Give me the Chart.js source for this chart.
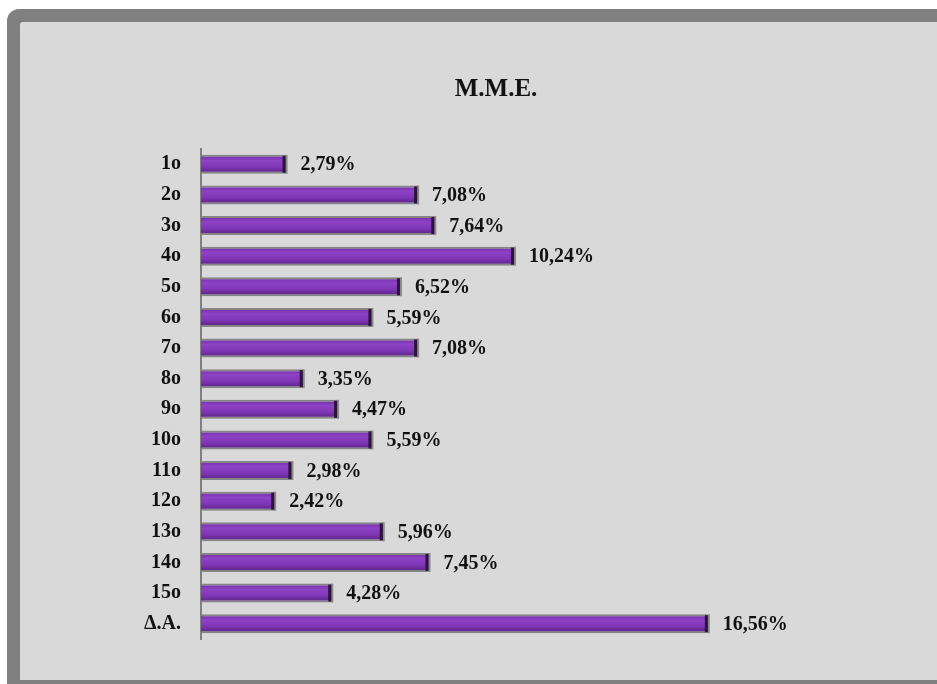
<!DOCTYPE html>
<html>
<head>
<meta charset="utf-8">
<script src="https://cdn.jsdelivr.net/npm/chart.js@4/dist/chart.umd.min.js"></script>
<style>
  body { margin: 0; background: #fff; width: 937px; height: 684px; overflow: hidden; position: relative; }
  #frame { position: absolute; left: 7px; top: 9px; right: 0; bottom: 0; background: #808080; border-top-left-radius: 12px; }
  #panel { position: absolute; left: 20px; top: 22px; right: 0; bottom: 4px; background: #d9d9d9; border-top-left-radius: 3px; }
  #chart { position: absolute; left: 0; top: 0; }
</style>
</head>
<body>
<div id="frame"></div>
<div id="panel"></div>
<canvas id="chart" width="937" height="684"></canvas>
<script>
const categories = ['1ο', '2ο', '3ο', '4ο', '5ο', '6ο', '7ο', '8ο', '9ο', '10ο', '11ο', '12ο', '13ο', '14ο', '15ο', 'Δ.Α.'];
const shares = [2.79, 7.08, 7.64, 10.24, 6.52, 5.59, 7.08, 3.35, 4.47, 5.59, 2.98, 2.42, 5.96, 7.45, 4.28, 16.56];

const serif = '"Liberation Serif", "Times New Roman", serif';

function pct(v) {
  return v.toFixed(2).replace('.', ',') + '%';
}

// purple bars with a vertical shade, dark end cap and value text
const barLook = {
  id: 'barLook',
  beforeDatasetsDraw(chart) {
    const ctx = chart.ctx;
    chart.getDatasetMeta(0).data.forEach(el => {
      const top = el.y - el.height / 2;
      const g = ctx.createLinearGradient(0, top, 0, top + el.height);
      g.addColorStop(0, '#6e2ca2');
      g.addColorStop(0.3, '#8e42c4');
      g.addColorStop(0.65, '#7e36b4');
      g.addColorStop(1, '#54207c');
      // options objects are shared between bars, so give each its own copy
      el.options = Object.assign({}, el.options, { backgroundColor: g });
    });
  },
  afterDatasetsDraw(chart) {
    const ctx = chart.ctx;
    const meta = chart.getDatasetMeta(0);
    ctx.save();
    meta.data.forEach((el, i) => {
      const top = el.y - el.height / 2;
      ctx.fillStyle = '#8a8a8a';
      ctx.fillRect(el.x - 1, top, 2, el.height);
      ctx.fillStyle = '#2a1438';
      ctx.fillRect(el.x - 4, top + 1, 3, el.height - 2);
      ctx.fillStyle = '#111';
      ctx.font = 'bold 20px ' + serif;
      ctx.textAlign = 'left';
      ctx.textBaseline = 'middle';
      ctx.fillText(pct(shares[i]), el.x + 14, el.y + 1);
    });
    ctx.restore();
  }
};

new Chart(document.getElementById('chart'), {
  type: 'bar',
  data: {
    labels: categories,
    datasets: [{
      data: shares,
      backgroundColor: '#7e36b4',
      borderColor: '#858585',
      borderWidth: { top: 2, bottom: 2, left: 0, right: 0 },
      borderSkipped: false,
      barPercentage: 0.62,
      categoryPercentage: 1
    }]
  },
  options: {
    indexAxis: 'y',
    responsive: false,
    animation: false,
    layout: { padding: { left: 55, right: 0, top: 0, bottom: 45 } },
    plugins: {
      legend: { display: false },
      tooltip: { enabled: false },
      title: {
        display: true,
        text: 'Μ.Μ.Ε.',
        color: '#111',
        font: { family: serif, size: 25, weight: 'bold' },
        padding: { top: 75, bottom: 44 }
      }
    },
    scales: {
      x: { display: false, min: 0, max: 24 },
      y: {
        afterFit(scale) { scale.width = 146; },
        grid: { display: false, drawTicks: false },
        border: { display: true, color: '#808080', width: 2 },
        ticks: {
          padding: 20,
          color: '#111',
          font: { family: serif, size: 20, weight: 'bold' }
        }
      }
    }
  },
  plugins: [barLook]
});
</script>
</body>
</html>
